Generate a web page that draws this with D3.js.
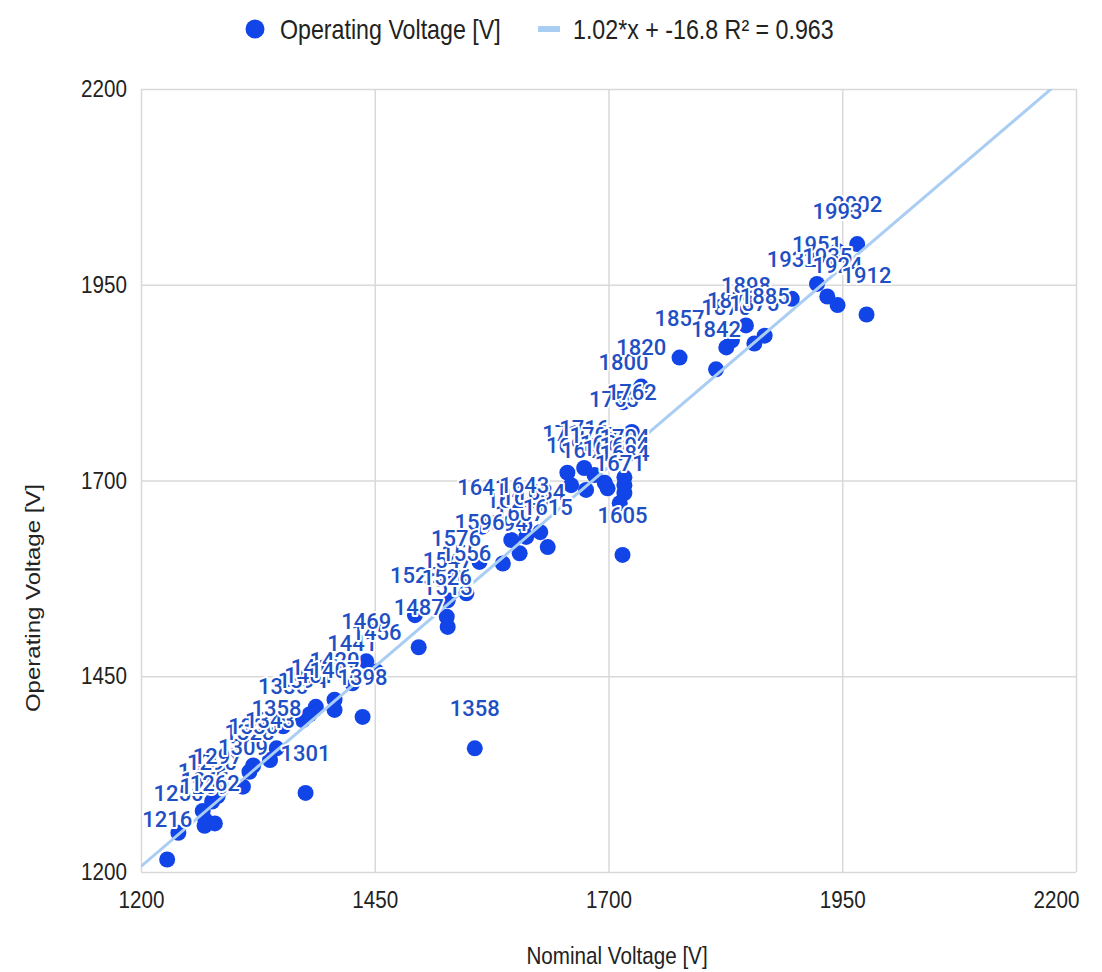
<!DOCTYPE html>
<html>
<head>
<meta charset="utf-8">
<script src="https://cdn.jsdelivr.net/npm/d3@7"></script>
<style>
  body { margin: 0; background: #fff; }
  svg { display: block; }
  .tick text { font-family: "Liberation Sans", Arial, sans-serif; font-size: 24px; fill: #222; }
  .grid line { stroke: #d9d9d9; stroke-width: 1.5; }
  .axis-title { font-family: "Liberation Sans", Arial, sans-serif; font-size: 24px; fill: #222; }
  .legend-text { font-family: "Liberation Sans", Arial, sans-serif; font-size: 27px; fill: #222; }
  .point-label { font-family: Roboto, "Noto Sans", sans-serif; font-size: 22px; font-weight: 500; fill: #1f4fc4;
                 stroke: #fff; stroke-width: 4px; paint-order: stroke; stroke-linejoin: round; }
</style>
</head>
<body>
<div id="chart"></div>
<script>
// Nominal voltage (x) and operating voltage (y)
var nominal = [1228, 1240, 1266, 1269, 1268, 1279, 1276, 1282, 1309, 1316,
               1320, 1338, 1345, 1352, 1376, 1373, 1380, 1387, 1407, 1407,
               1437, 1426, 1452, 1441, 1497, 1493, 1528, 1527, 1528, 1548,
               1557, 1587, 1605, 1596, 1612, 1627, 1635, 1562, 1537, 1565,
               1610, 1656, 1660, 1674, 1676, 1685, 1696, 1699, 1717, 1717,
               1717, 1712, 1715, 1706, 1725, 1716, 1735, 1776, 1815, 1826,
               1832, 1847, 1856, 1867, 1896, 1923, 1934, 1945, 1966, 1945,
               1976];
var operating = [1216, 1250, 1278, 1266, 1259, 1262, 1290, 1297, 1309, 1328,
                 1336, 1343, 1358, 1386, 1301, 1394, 1401, 1411, 1420, 1407,
                 1398, 1441, 1456, 1469, 1487, 1528, 1513, 1526, 1547, 1556,
                 1358, 1594, 1607, 1624, 1628, 1634, 1615, 1596, 1576, 1641,
                 1643, 1710, 1694, 1716, 1688, 1707, 1697, 1690, 1704, 1694,
                 1684, 1671, 1605, 1753, 1762, 1800, 1820, 1857, 1842, 1870,
                 1879, 1898, 1875, 1885, 1932, 1951, 1935, 1924, 2002, 1993,
                 1912];

// Trendline shown in the legend
var slope = 1.02;
var intercept = -16.8;
var rSquared = 0.963;

var tickValues = [1200, 1450, 1700, 1950, 2200];
var seriesName = "Operating Voltage [V]";
var xTitle = "Nominal Voltage [V]";
var yTitle = "Operating Voltage [V]";

var pointColor = "#1245e8";
var trendColor = "#a9cdf3";
var squeeze = 0.86; // the reference text is horizontally narrowed

var width = 1102, height = 972;
var plot = { left: 141, right: 1076, top: 89, bottom: 872 };

var svg = d3.select("#chart").append("svg")
  .attr("width", width)
  .attr("height", height);

var x = d3.scaleLinear().domain([1200, 2200]).range([plot.left, plot.right]);
var y = d3.scaleLinear().domain([1200, 2200]).range([plot.bottom, plot.top]);

// Gridlines + tick labels
var xAxis = svg.append("g")
  .attr("class", "grid")
  .attr("transform", "translate(0," + plot.bottom + ")")
  .call(d3.axisBottom(x).tickValues(tickValues).tickFormat(d3.format("d"))
    .tickSize(-(plot.bottom - plot.top)).tickPadding(19));
xAxis.select(".domain").remove();
xAxis.selectAll(".tick text")
  .attr("transform", "scale(" + squeeze + ",1)");
// last label is pulled inside the chart edge
xAxis.selectAll(".tick text")
  .filter(function(d) { return d === 2200; })
  .attr("text-anchor", "end")
  .attr("x", 3 / squeeze);

var yAxis = svg.append("g")
  .attr("class", "grid")
  .attr("transform", "translate(" + plot.left + ",0)")
  .call(d3.axisLeft(y).tickValues(tickValues).tickFormat(d3.format("d"))
    .tickSize(-(plot.right - plot.left)).tickPadding(14));
yAxis.select(".domain").remove();
yAxis.selectAll(".tick text")
  .attr("x", -14 / squeeze)
  .attr("transform", "scale(" + squeeze + ",1)");

// Axis titles
svg.append("text")
  .attr("class", "axis-title")
  .attr("text-anchor", "middle")
  .attr("transform", "translate(617,964) scale(" + squeeze + ",1)")
  .text(xTitle);

svg.append("text")
  .attr("class", "axis-title")
  .attr("text-anchor", "middle")
  .attr("transform", "translate(40,598) rotate(-90) scale(1," + squeeze + ")")
  .text(yTitle);

var data = nominal.map(function(d, i) { return { x: d, y: operating[i] }; });

// Points
svg.append("g")
  .selectAll("circle")
  .data(data)
  .enter()
  .append("circle")
  .attr("cx", function(d) { return x(d.x); })
  .attr("cy", function(d) { return y(d.y); })
  .attr("r", 8)
  .attr("fill", pointColor);

// Trendline, clipped to the plot area
svg.append("clipPath").attr("id", "plot-clip")
  .append("rect")
  .attr("x", plot.left).attr("y", plot.top)
  .attr("width", plot.right - plot.left)
  .attr("height", plot.bottom - plot.top);

var trendX = x.domain();
svg.append("line")
  .attr("clip-path", "url(#plot-clip)")
  .attr("x1", x(trendX[0]))
  .attr("y1", y(slope * trendX[0] + intercept))
  .attr("x2", x(trendX[1]))
  .attr("y2", y(slope * trendX[1] + intercept))
  .attr("stroke", trendColor)
  .attr("stroke-width", 3);

// Data labels (operating voltage) above each point
svg.append("g")
  .selectAll("text")
  .data(data)
  .enter()
  .append("text")
  .attr("class", "point-label")
  .attr("text-anchor", "middle")
  .attr("x", function(d) { return x(d.x); })
  .attr("y", function(d) { return y(d.y) - 32; })
  .text(function(d) { return d.y; });

// Legend
var legend = svg.append("g");
legend.append("circle")
  .attr("cx", 255).attr("cy", 29).attr("r", 9.5)
  .attr("fill", pointColor);
legend.append("text")
  .attr("class", "legend-text")
  .attr("transform", "translate(280,39) scale(" + squeeze + ",1)")
  .text(seriesName);
legend.append("rect")
  .attr("x", 538).attr("y", 26).attr("width", 22).attr("height", 6)
  .attr("fill", trendColor);
legend.append("text")
  .attr("class", "legend-text")
  .attr("transform", "translate(573,39) scale(" + squeeze + ",1)")
  .text(slope.toFixed(2) + "*x + " + intercept + " R\u00b2 = " + rSquared);
</script>
</body>
</html>
